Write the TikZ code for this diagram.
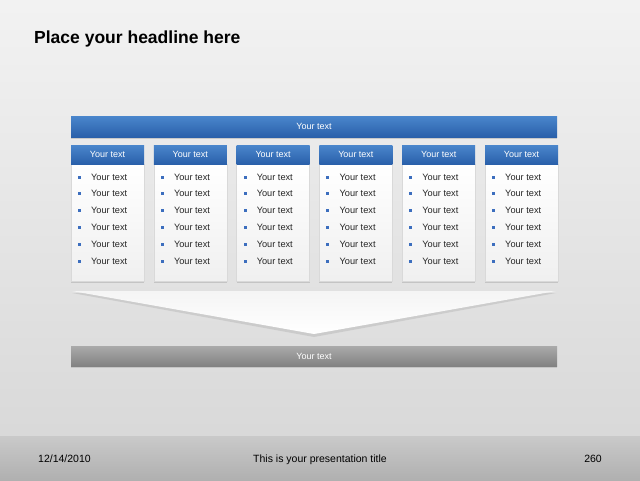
\documentclass[tikz,border=0pt]{standalone}
\usepackage{fontspec}
\setmainfont{Liberation Sans}
\usetikzlibrary{shadows}

\definecolor{bluetop}{RGB}{74 134 204}
\definecolor{bluebot}{RGB}{42 96 170}
\definecolor{graytop}{RGB}{170 170 170}
\definecolor{graybot}{RGB}{130 130 130}
\definecolor{bullet}{RGB}{60 110 190}

\tikzset{
	bar/.style={inner sep=0pt, minimum width=486pt, text=white, font=\fontsize{9}{10}\selectfont},
	colhead/.style={inner sep=0pt, minimum width=73pt, minimum height=19pt, top color=bluetop, bottom color=bluebot, text=white, font=\fontsize{9}{10}\selectfont},
	colbody/.style={inner sep=0pt, minimum width=73pt, minimum height=117pt, top color=white, bottom color=black!6, draw=black!15, drop shadow={opacity=.3, shadow xshift=0pt, shadow yshift=-1.5pt}},
	item/.style={anchor=west, inner sep=0pt, font=\fontsize{9.2}{10}\selectfont, text=black!85},
	dot/.style={fill=bullet, inner sep=0pt, minimum size=3pt},
}

\begin{document}
\begin{tikzpicture}[x=1pt, y=-1pt]
	\useasboundingbox (0, 0) rectangle (640, 480);

	% background and footer
	\shade[top color=black!5, bottom color=black!15] (0, 0) rectangle (640, 436);
	\shade[top color=black!21, bottom color=black!31] (0, 436) rectangle (640, 480);

	% headline
	\node[anchor=base west, inner sep=0pt, font=\fontsize{17.5}{20}\selectfont\bfseries] (headline) at (34, 43) {Place your headline here};

	% top bar
	\node[bar, minimum height=21pt, top color=bluetop, bottom color=bluebot, drop shadow={opacity=.3, shadow xshift=0pt, shadow yshift=-1.5pt}] (topbar) at (314, 126.5) {Your text};

	% columns
	\foreach \i in {0, ..., 5} {
		\pgfmathsetmacro\colx{71 + 82.8 * \i}
		\node[colbody] (body\i) at (\colx + 36.5, 222.5) {};
		\node[colhead] (head\i) at (\colx + 36.5, 154.5) {Your text};
		\foreach \j in {0, ..., 5} {
			\node[dot] (dot\i\j) at (\colx + 8.5, 177 + 16.8 * \j) {};
			\node[item] (item\i\j) at (\colx + 20, 177 + 16.8 * \j) {Your text};
		}
	}

	% funnel
	\fill[black!25, opacity=.6] (72, 293) -- (556, 293) -- (314, 337) -- cycle;
	\shade[top color=black!4, bottom color=white] (72, 291) -- (556, 291) -- (314, 334) -- cycle;

	% bottom bar
	\node[bar, minimum height=20pt, top color=graytop, bottom color=graybot, drop shadow={opacity=.25, shadow xshift=0pt, shadow yshift=-1.5pt}] (bottombar) at (314, 356) {Your text};

	% footer
	\node[anchor=base west, inner sep=0pt, font=\fontsize{10.5}{12}\selectfont] (date) at (38, 462) {12/14/2010};
	\node[anchor=base, inner sep=0pt, font=\fontsize{10.5}{12}\selectfont] (title) at (320, 462) {This is your presentation title};
	\node[anchor=base east, inner sep=0pt, font=\fontsize{10.5}{12}\selectfont] (page) at (602, 462) {260};
\end{tikzpicture}
\end{document}
